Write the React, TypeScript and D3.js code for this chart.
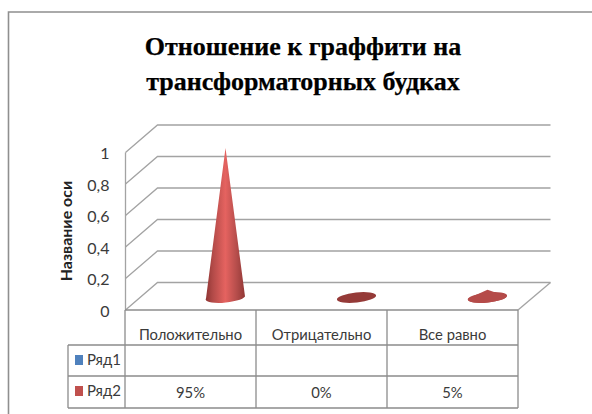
import React from "react";
import * as d3 from "d3";

const titleLines = ["Отношение к граффити на", "трансформаторных будках"];
const categories = ["Положительно", "Отрицательно", "Все равно"];
const seriesNames = ["Ряд1", "Ряд2"];
const seriesColors = ["#4f81bd", "#c0504d"];
const series2 = [0.95, 0, 0.05];
const series2Labels = ["95%", "0%", "5%"];
const yTicks = [0, 0.2, 0.4, 0.6, 0.8, 1];
const axisTitle = "Название оси";

const W = 592, H = 414;
const GRID = "#a3a3a3", TABLE = "#8c8c8c";
const y = d3.scaleLinear().domain([0, 1]).range([310, 152.5]);
const x = d3.scaleBand().domain(categories).range([125, 518]);
const depthX = 32, depthY = 27.5;
const sans = "Lato, 'Open Sans', sans-serif";
const fmt = (v: number) => String(v).replace(".", ",");

function conePath(cx: number, base: number, top: number, rx: number, ry: number) {
  return `M${cx - rx},${base + 1} L${cx},${top} L${cx + rx},${base - 1} A${rx},${ry} -6 0 1 ${cx - rx},${base + 1} Z`;
}

export default function App() {
  const rowX = [68, 125];
  const rows = [310, 345, 376, 408];
  const cols = [125, 256, 387, 518];
  const baseY = 297.5;
  return (
    <svg width={W} height={H} style={{ position: "absolute", left: 0, top: 0, background: "#fff" }}>
      <defs>
        <linearGradient id="cone">
          <stop offset="0" stopColor="#8f3533" />
          <stop offset="0.18" stopColor="#b24a48" />
          <stop offset="0.5" stopColor="#e56360" />
          <stop offset="0.8" stopColor="#b34c4a" />
          <stop offset="1" stopColor="#913735" />
        </linearGradient>
      </defs>
      <path d="M8.5,414 V12 H592" fill="none" stroke="#8f8f8f" strokeWidth={1.6} />
      <g fontFamily="'Liberation Serif', serif" fontWeight={700} fontSize={26} textAnchor="middle" fill="#000" stroke="#000" strokeWidth={0.25}>
        {titleLines.map((t, i) => (
          <text key={t} x={303} y={55 + i * 35}>{t}</text>
        ))}
      </g>
      <g stroke={GRID} strokeWidth={1.3} fill="none">
        {yTicks.map((t) => (
          <path key={t} d={d3.line()([[125.5, y(t)], [125.5 + depthX, y(t) - depthY], [550.5, y(t) - depthY]]) || ""} />
        ))}
        <path d={`M125.5,${y(0)} V${y(1)}`} />
        <path d={`M518,${y(0)} L550.5,${y(0) - depthY}`} />
      </g>
      {categories.map((c, i) => {
        const cx = x(c)! + x.bandwidth() / 2 + 35;
        const top = baseY - (y(0) - y(series2[i]));
        const base = <ellipse cx={cx} cy={baseY} rx={19.7} ry={5} transform={`rotate(-6 ${cx} ${baseY})`} fill={i === 1 ? "#953a38" : "#b24a48"} />;
        return (
          <g key={c}>
            {i !== 0 && base}
            {series2[i] > 0 && <path d={conePath(cx, baseY, top, 19.5, 5)} fill={i === 0 ? "url(#cone)" : "#b54b49"} />}
          </g>
        );
      })}
      <g stroke={TABLE} strokeWidth={1.3} fill="none">
        <path d={`M125,${rows[0]} H518`} />
        {cols.map((v) => <path key={v} d={`M${v},${rows[0]} V${rows[3]}`} />)}
        <path d={`M${rowX[0]},${rows[1]} H518 M${rowX[0]},${rows[2]} H518 M${rowX[0]},${rows[3]} H518 M${rowX[0]},${rows[1]} V${rows[3]}`} />
      </g>
      <g fontFamily={sans} fontSize={14.8} fill="#3a3a3a" textAnchor="middle">
        {categories.map((c) => (
          <text key={c} x={x(c)! + x.bandwidth() / 2} y={340}>{c}</text>
        ))}
        {series2Labels.map((l, i) => (
          <text key={l} x={x(categories[i])! + x.bandwidth() / 2} y={398}>{l}</text>
        ))}
      </g>
      <g fontFamily={sans} fontSize={15} fill="#3a3a3a">
        {seriesNames.map((n, i) => (
          <g key={n}>
            <rect x={75} y={[355, 386][i]} width={8} height={10} fill={seriesColors[i]} />
            <text x={87} y={[365, 396][i]}>{n}</text>
          </g>
        ))}
      </g>
      <g fontFamily={sans} fontSize={16} fill="#3a3a3a" textAnchor="end">
        {yTicks.map((t) => (
          <text key={t} x={109.5} y={y(t) + 6.5}>{fmt(t)}</text>
        ))}
      </g>
      <text
        transform="translate(71.5,231) rotate(-90)"
        textAnchor="middle"
        fontFamily={sans}
        fontWeight={700}
        fontSize={16}
        fill="#222"
      >
        {axisTitle}
      </text>
    </svg>
  );
}
